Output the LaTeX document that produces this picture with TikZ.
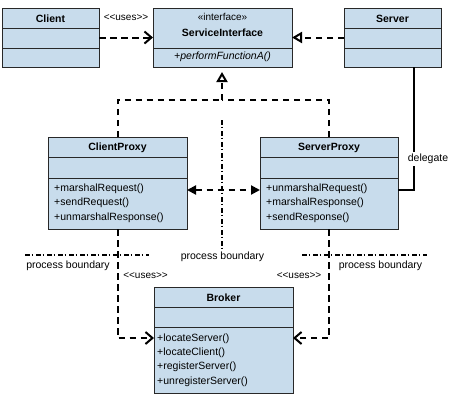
\documentclass[tikz,border=0pt]{standalone}
\usepackage{fontspec}
\setmainfont{Liberation Sans}
\usetikzlibrary{arrows.meta}
\definecolor{clsfill}{RGB}{200,220,236}
\definecolor{clsline}{RGB}{40,40,40}
\begin{document}
\begin{tikzpicture}[x=1pt,y=-1pt,
  cls/.style={draw=clsline, line width=0.9pt, fill=clsfill, inner sep=0pt, outer sep=0pt},
  sep/.style={draw=clsline, line width=0.9pt},
  ttl/.style={inner sep=0pt, font=\fontsize{10.5}{12}\selectfont\bfseries},
  mth/.style={inner sep=0pt, anchor=west, font=\fontsize{10.5}{12}\selectfont},
  lbl/.style={inner sep=0pt, font=\fontsize{10.5}{12}\selectfont},
  ulbl/.style={inner sep=0pt, font=\fontsize{10}{11}\selectfont},
  dep/.style={line width=2pt, dash pattern=on 6.5pt off 4.5pt},
  uses/.style={dep, -{Straight Barb[length=7pt,width=12pt]}},
  real/.style={dep, -{Triangle[open,length=10pt,width=11pt]}},
  bidir/.style={dep, {Triangle[length=9pt,width=9pt]}-{Triangle[length=9pt,width=9pt]}},
  bound/.style={line width=1.6pt, dash pattern=on 5pt off 1.5pt on 1.5pt off 3pt},
  assoc/.style={line width=2.2pt}
]
\useasboundingbox (0,0) rectangle (450,407);

% ---- Client
\node[cls, minimum width=97pt, minimum height=59pt] (client) at (50.5,37.5) {};
\draw[sep] (2,28) -- (99,28);
\draw[sep] (2,48) -- (99,48);
\node[ttl] (clientT) at (50.5,19) {Client};

% ---- ServiceInterface
\node[cls, minimum width=139pt, minimum height=59pt] (si) at (222.5,37.5) {};
\draw[sep] (153,48) -- (292,48);
\node[ulbl] (siS) at (222.5,17) {«interface»};
\node[ttl] (siT) at (222.5,33) {ServiceInterface};
\node[lbl, font=\fontsize{10.5}{12}\selectfont\itshape] (siM) at (222.5,57) {+performFunctionA()};

% ---- Server
\node[cls, minimum width=97pt, minimum height=59pt] (server) at (392.5,37.5) {};
\draw[sep] (344,28) -- (441,28);
\draw[sep] (344,48) -- (441,48);
\node[ttl] (serverT) at (392.5,19) {Server};

% ---- ClientProxy
\node[cls, minimum width=139pt, minimum height=92pt] (cp) at (117.5,183) {};
\draw[sep] (48,157) -- (187,157);
\draw[sep] (48,178) -- (187,178);
\node[ttl] (cpT) at (117.5,148) {ClientProxy};
\node[mth] (cp1) at (54,188.5) {+marshalRequest()};
\node[mth] (cp2) at (54,203) {+sendRequest()};
\node[mth] (cp3) at (54,217.5) {+unmarshalResponse()};

% ---- ServerProxy
\node[cls, minimum width=138pt, minimum height=92pt] (sp) at (329,183) {};
\draw[sep] (260,157) -- (398,157);
\draw[sep] (260,178) -- (398,178);
\node[ttl] (spT) at (329,148) {ServerProxy};
\node[mth] (sp1) at (266,188.5) {+unmarshalRequest()};
\node[mth] (sp2) at (266,203) {+marshalResponse()};
\node[mth] (sp3) at (266,217.5) {+sendResponse()};

% ---- Broker
\node[cls, minimum width=139pt, minimum height=106pt] (broker) at (223.5,340) {};
\draw[sep] (154,307) -- (293,307);
\draw[sep] (154,327) -- (293,327);
\node[ttl] (brT) at (223.5,297.5) {Broker};
\node[mth] (br1) at (157,339) {+locateServer()};
\node[mth] (br2) at (157,352.5) {+locateClient()};
\node[mth] (br3) at (157,367) {+registerServer()};
\node[mth] (br4) at (157,381.5) {+unregisterServer()};

% ---- top connectors
\draw[uses] (client) -- (si);
\node[ulbl] (u0) at (126,18) {<{}<uses>{}>};
\draw[real] (server) -- (si);

% realization of proxies
\coordinate (j) at (222,100);
\draw[dep] (cp.north) |- (j);
\draw[dep] (sp.north) |- (j);
\draw[real, shorten >=5pt] (j) -- (si.south -| j);

% delegate association
\coordinate (dl) at (414,190);
\draw[assoc] (server.south -| dl) -- (dl) -- (sp.east |- dl);
\node[lbl, fill=white, inner sep=2pt] (delg) at (428,159) {delegate};

% proxy to proxy
\draw[bidir] (cp.east |- dl) -- (sp.west |- dl);

% ---- process boundaries
\coordinate (vb) at (222,120);
\node[lbl] (pbm) at (222.5,257) {process boundary};
\draw[bound] (vb) -- (pbm.north -| vb);

\coordinate (lb1) at (25,255);
\coordinate (lb2) at (149,255);
\draw[bound] (lb1) -- (lb2);
\node[lbl] (pbl) at (68,266) {process boundary};

\coordinate (rb1) at (302,255);
\coordinate (rb2) at (427,255);
\draw[bound] (rb1) -- (rb2);
\node[lbl] (pbr) at (380.5,266) {process boundary};

% ---- uses to broker
\coordinate (bl) at (117.5,338);
\coordinate (br) at (329,338);
\draw[uses] (cp.south) -- (bl) -- (broker.west |- bl);
\draw[uses] (sp.south) -- (br) -- (broker.east |- br);
\node[ulbl] (u1) at (145.5,276) {<{}<uses>{}>};
\node[ulbl] (u2) at (299,276) {<{}<uses>{}>};
\end{tikzpicture}
\end{document}
